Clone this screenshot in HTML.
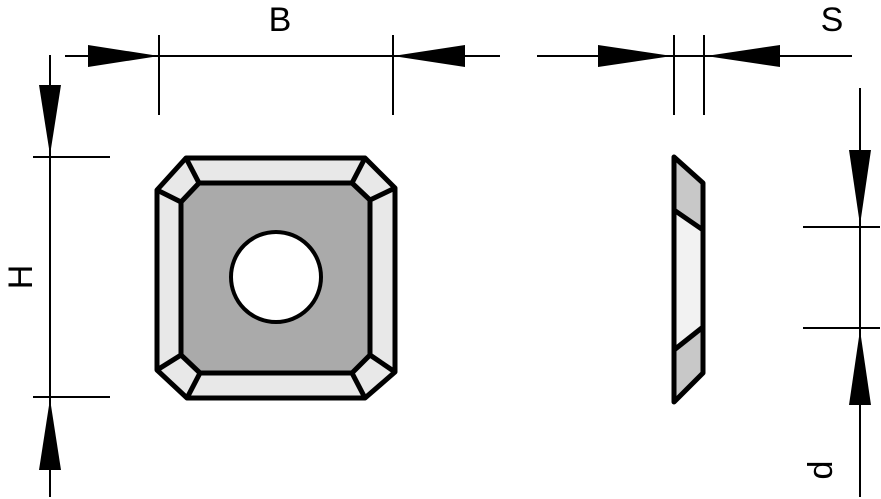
<!DOCTYPE html>
<html><head><style>body{margin:0;background:#fff}svg{display:block}</style></head><body>
<svg width="881" height="499" viewBox="0 0 881 499" xmlns="http://www.w3.org/2000/svg">
<g stroke="#000" stroke-width="2" fill="none">
<line x1="65" y1="56" x2="500" y2="56"/>
<line x1="159" y1="35" x2="159" y2="115"/>
<line x1="393" y1="35" x2="393" y2="115"/>
<line x1="537" y1="56" x2="852" y2="56"/>
<line x1="674" y1="35" x2="674" y2="115"/>
<line x1="704" y1="35" x2="704" y2="115"/>
<line x1="50" y1="55" x2="50" y2="497"/>
<line x1="33" y1="157" x2="110" y2="157"/>
<line x1="33" y1="397" x2="110" y2="397"/>
<line x1="860" y1="88" x2="860" y2="497"/>
<line x1="803" y1="227" x2="880" y2="227"/>
<line x1="803" y1="328" x2="880" y2="328"/>
</g>
<g fill="#000">
<polygon points="159,56 88,45 88,67"/>
<polygon points="393,56 465,45 465,67"/>
<polygon points="672,56 598,45 598,67"/>
<polygon points="706,56 780,45 780,67"/>
<polygon points="50,155 39,85 61,85"/>
<polygon points="50,399 39,470 61,470"/>
<polygon points="860,225 849,150 871,150"/>
<polygon points="860,330 849,405 871,405"/>
</g>
<g font-family="Liberation Sans, sans-serif" font-size="34" fill="#000">
<text x="280" y="31" text-anchor="middle">B</text>
<text x="832" y="31" text-anchor="middle">S</text>
<text transform="translate(32,277) rotate(-90)" text-anchor="middle">H</text>
<text transform="translate(832,470) rotate(-90)" text-anchor="middle">d</text>
</g>
<g stroke="#000" stroke-width="5" stroke-linejoin="round">
<polygon points="186,158 365,158 395,188 395,372 365,398 187,398 157,370 157,190" fill="#e8e8e8"/>
<polygon points="199,183 352,183 370,200 370,355 352,373 200,373 181,355 181,202" fill="#aaa"/>
<line x1="186" y1="158" x2="199" y2="183"/>
<line x1="157" y1="190" x2="181" y2="202"/>
<line x1="365" y1="158" x2="352" y2="183"/>
<line x1="395" y1="188" x2="370" y2="200"/>
<line x1="395" y1="372" x2="370" y2="355"/>
<line x1="365" y1="398" x2="352" y2="373"/>
<line x1="187" y1="398" x2="200" y2="373"/>
<line x1="157" y1="370" x2="181" y2="355"/>
<circle cx="276" cy="277" r="45" fill="#fff" stroke-width="4"/>
<polygon points="674,210 703,230 703,327 674,350" fill="#f2f2f2" stroke="none"/>
<polygon points="674,157 703,183 703,230 674,210" fill="#c8c8c8" stroke="none"/>
<polygon points="674,350 703,327 703,373 674,402" fill="#c8c8c8" stroke="none"/>
<polygon points="674,157 703,183 703,373 674,402" fill="none"/>
<line x1="674" y1="210" x2="703" y2="230"/>
<line x1="674" y1="350" x2="703" y2="327"/>
</g>
</svg>
</body></html>
